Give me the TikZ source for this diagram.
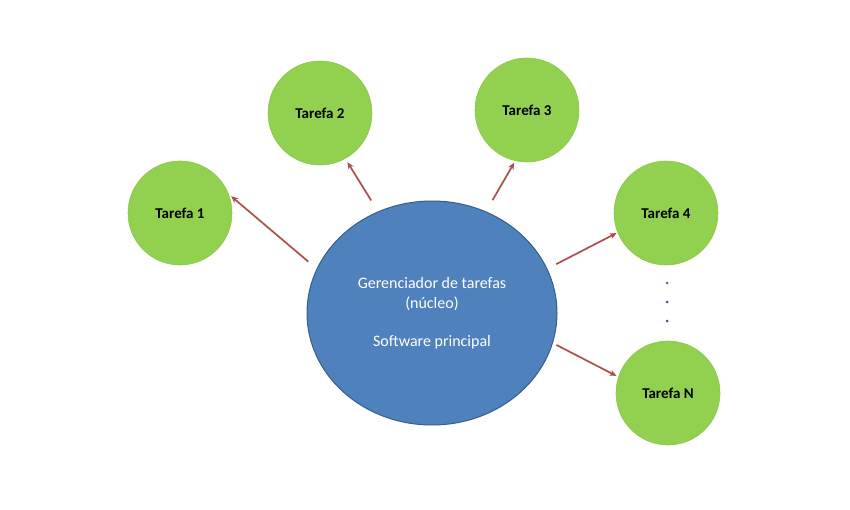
\documentclass[tikz,border=0pt]{standalone}
\usepackage{fontspec}
\setmainfont{Carlito}
\usepackage{tikz}
\usetikzlibrary{arrows.meta,positioning,shapes.geometric}
\definecolor{Leaf}{HTML}{92D050}
\definecolor{LeafEdge}{HTML}{8CC84B}
\definecolor{Core}{HTML}{4F81BD}
\definecolor{CoreEdge}{HTML}{385D8A}
\definecolor{Rust}{HTML}{A9504C}
\definecolor{DotBlue}{HTML}{2E5C8F}
\tikzset{
  >={Stealth[length=7pt,width=6pt]},
  tarefa/.style={circle,fill=Leaf,draw=LeafEdge,line width=.6pt,minimum size=104pt,inner sep=0pt,font=\fontsize{15}{18}\selectfont\bfseries},
  nucleo/.style={ellipse,fill=Core,draw=CoreEdge,line width=1pt,minimum width=250pt,minimum height=224pt,inner sep=0pt,text=white,align=center,font=\fontsize{16}{20}\selectfont},
  seta/.style={->,draw=Rust,line width=1.7pt},
  ponto/.style={circle,inner sep=0pt,minimum size=3pt}
}

\begin{document}
\begin{tikzpicture}[x=1pt,y=-1pt]
        \useasboundingbox (0,0) rectangle (850,510);
        \node[nucleo] (core) at (432,313) {Gerenciador de tarefas\\(núcleo)\\[18pt]Software principal};
        \node[tarefa] (t1) at (180,213) {Tarefa 1};
        \node[tarefa] (t2) at (320,113) {Tarefa 2};
        \node[tarefa] (t3) at (527,110) {Tarefa 3};
        \node[tarefa] (t4) at (666,213) {Tarefa 4};
        \node[tarefa] (tn) at (668,393) {Tarefa N};
        % pontos entre Tarefa 4 e Tarefa N
        \node[ponto,fill=Rust] (p1) at (667,283) {};
        \node[ponto,fill=DotBlue] (p2) at (667,302) {};
        \node[ponto,fill=DotBlue] (p3) at (667,321) {};
        \draw[seta,shorten <=11pt,shorten >=3pt] (core.159)--(t1.21);
        \draw[seta,shorten <=13pt,shorten >=4pt] (core.118)--(t2.-61);
        \draw[seta,shorten <=13pt,shorten >=2pt] (core.62)--(t3.-103);
        \draw[seta,shorten <=10pt,shorten >=1pt] (core.21)--(t4.202);
        \draw[seta,shorten <=4pt,shorten >=2pt] (core.-14)--(tn.162);
      \end{tikzpicture}
\end{document}
